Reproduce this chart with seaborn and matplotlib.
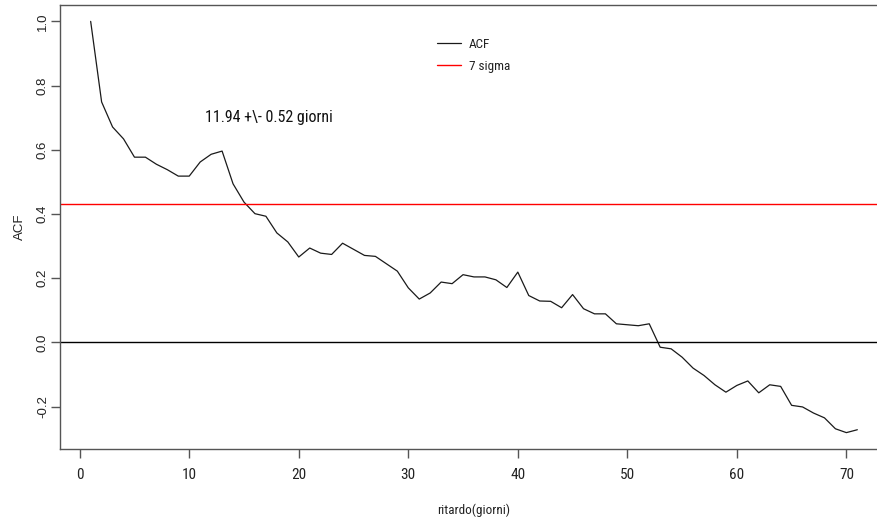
import matplotlib
matplotlib.use("Agg")
import matplotlib.pyplot as plt
import seaborn as sns
import pandas as pd

lags = list(range(1, 72))
acf = [1.000, 0.749, 0.671, 0.634, 0.577, 0.577, 0.555, 0.538, 0.518, 0.518,
       0.562, 0.586, 0.596, 0.494, 0.437, 0.401, 0.393, 0.341, 0.313, 0.266,
       0.294, 0.278, 0.274, 0.309, 0.290, 0.271, 0.268, 0.245, 0.222, 0.170,
       0.135, 0.154, 0.188, 0.183, 0.211, 0.204, 0.204, 0.195, 0.171, 0.219,
       0.146, 0.129, 0.128, 0.108, 0.149, 0.105, 0.089, 0.089, 0.058, 0.055,
       0.052, 0.058, -0.015, -0.020, -0.046, -0.080, -0.103, -0.132, -0.155, -0.134,
       -0.120, -0.157, -0.132, -0.137, -0.196, -0.201, -0.220, -0.235, -0.269, -0.281,
       -0.272]
sigma_level = 0.43
x_ticks = [0, 10, 20, 30, 40, 50, 60, 70]
y_ticks = [-0.2, 0.0, 0.2, 0.4, 0.6, 0.8, 1.0]
y_ticklabels = ["-0.2", "0.0", "0.2", "0.4", "0.6", "0.8", "1.0"]
annotation = "11.94 +\\- 0.52 giorni"
legend_labels = ["ACF", "7 sigma"]

df = pd.DataFrame({"lag": lags, "acf": acf})

sns.set_style("ticks")
plt.rcParams["font.family"] = ["Liberation Sans", "DejaVu Sans"]
narrow = ["Roboto Condensed", "Liberation Sans", "DejaVu Sans"]

W, H = 878, 523
fig = plt.figure(figsize=(W / 100, H / 100), dpi=100)
ax = fig.add_axes([60 / W, (H - 449) / H, (888 - 60) / W, (449 - 5) / H])

sns.lineplot(data=df, x="lag", y="acf", ax=ax, color="#1a1a1a", linewidth=0.9,
             label=legend_labels[0])
ax.axhline(sigma_level, color="red", linewidth=1.0, label=legend_labels[1])
ax.axhline(0.0, color="black", linewidth=1.0)

ax.set_xlim(-1.8, 73.8)
ax.set_ylim(-0.332, 1.051)
ax.set_xticks(x_ticks)
ax.set_xticklabels([str(t) for t in x_ticks], family=narrow, fontsize=11)
ax.set_yticks(y_ticks)
ax.set_yticklabels(y_ticklabels, rotation=90, va="center", fontsize=9.5)

for name, s in ax.spines.items():
    s.set_color("#555555")
    s.set_linewidth(1.0)
ax.spines["right"].set_visible(False)

ax.tick_params(axis="both", direction="out", length=6.5, width=1.0, color="#555555",
               labelcolor="#222222")
ax.tick_params(axis="x", pad=7)
ax.tick_params(axis="y", pad=1.5)

ax.set_xlabel("ritardo(giorni)", family=narrow, fontsize=9.5, labelpad=16, color="#222222")
ax.set_ylabel("ACF", fontsize=9.5, labelpad=8, color="#222222")

ax.text(17.3, 0.70, annotation, ha="center", va="center", family=narrow,
        fontsize=11.5, color="#111111")

leg = ax.legend(loc="upper left", bbox_to_anchor=(437 / W, (H - 38) / H),
                bbox_transform=fig.transFigure, frameon=False,
                prop={"family": narrow, "size": 9.5},
                handlelength=1.8, handletextpad=0.6, labelspacing=0.65,
                borderpad=0, borderaxespad=0)
for t in leg.get_texts():
    t.set_color("#222222")

fig.savefig("out.png", dpi=100)
